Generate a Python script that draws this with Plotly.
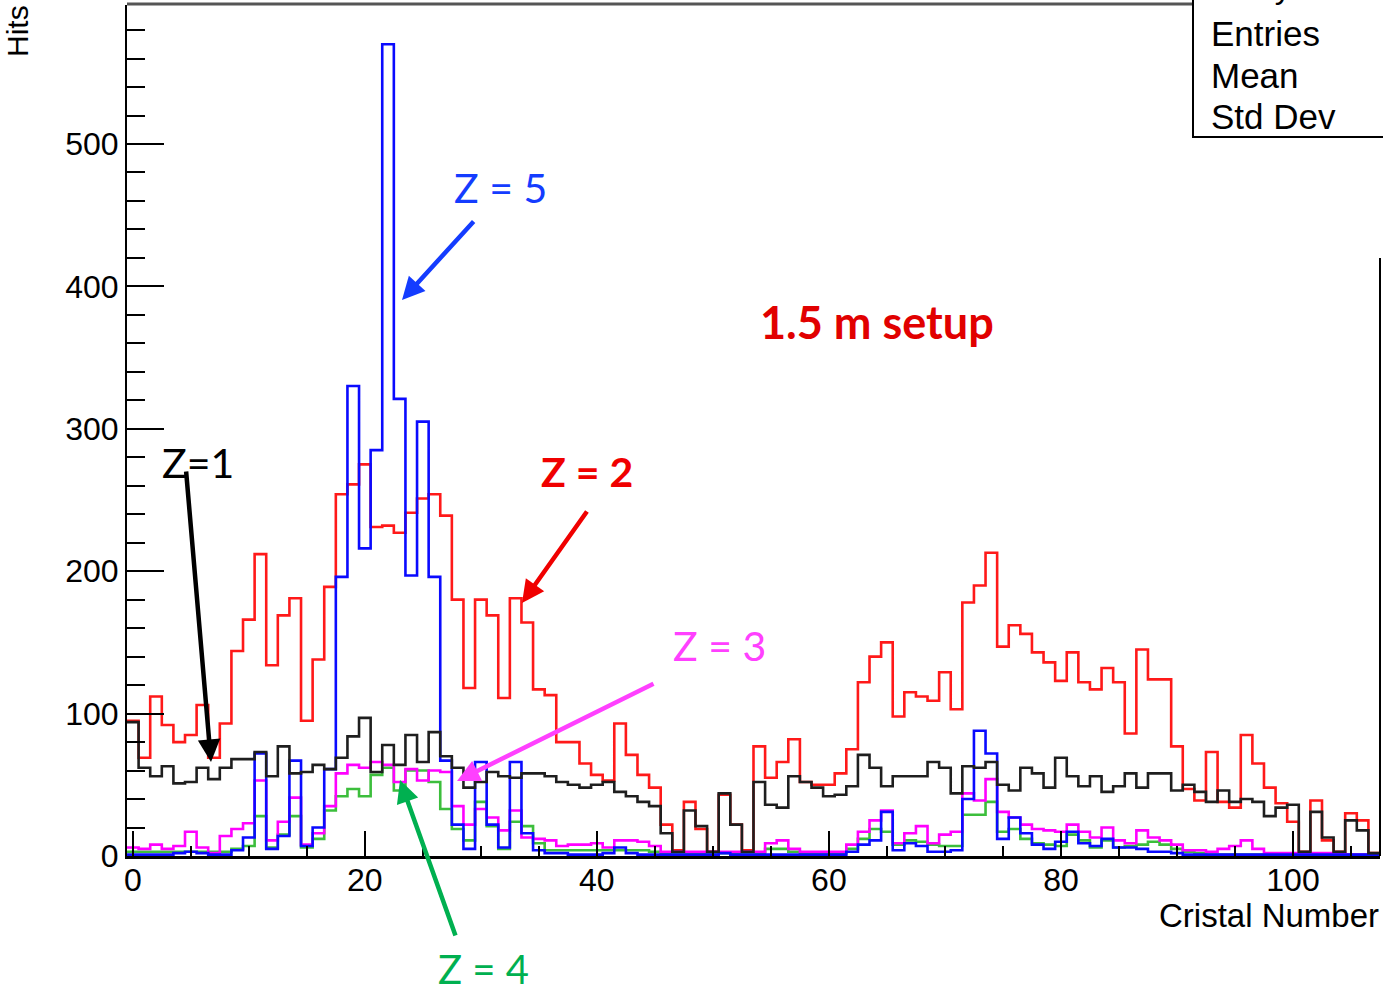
import plotly.graph_objects as go

# ---------------- data (bin contents, crystal 0..107) ----------------
crystal = list(range(108))

z2_red = [95, 69, 112, 92, 80, 85, 106, 69, 93, 144,
          166, 212, 134, 169, 181, 95, 138, 189, 254, 261,
          275, 231, 232, 227, 241, 251, 254, 239, 180, 118,
          180, 169, 111, 181, 164, 117, 113, 80, 80, 65,
          57, 53, 93, 71, 57, 48, 22, 4, 38, 19,
          3, 43, 22, 4, 77, 55, 66, 82, 52, 50,
          50, 58, 75, 122, 140, 150, 98, 115, 112, 109,
          129, 103, 178, 190, 213, 147, 162, 156, 143, 136,
          123, 143, 122, 117, 132, 122, 86, 145, 124, 124,
          77, 47, 39, 73, 38, 34, 85, 65, 48, 37,
          24, 3, 39, 11, 3, 30, 25, 2]

z1_black = [94, 62, 56, 63, 51, 52, 62, 54, 62, 68,
            68, 73, 56, 77, 58, 59, 64, 61, 69, 84,
            97, 59, 78, 64, 85, 66, 87, 70, 62, 48,
            52, 59, 56, 55, 58, 58, 56, 52, 50, 48,
            50, 52, 45, 42, 38, 35, 16, 3, 32, 21,
            3, 44, 22, 3, 52, 36, 34, 56, 52, 48,
            42, 43, 49, 71, 62, 49, 56, 56, 56, 66,
            62, 44, 63, 62, 66, 50, 46, 62, 58, 48,
            69, 56, 49, 56, 45, 49, 58, 48, 58, 58,
            46, 50, 45, 38, 46, 38, 40, 38, 28, 34,
            36, 3, 31, 13, 3, 25, 18, 2]

z3_magenta = [6, 5, 8, 5, 7, 17, 6, 2, 14, 19,
              23, 53, 11, 24, 41, 8, 16, 35, 58, 64,
              62, 66, 64, 52, 61, 53, 60, 59, 35, 22,
              33, 27, 18, 32, 13, 12, 11, 7, 8, 8,
              9, 6, 11, 11, 10, 7, 3, 3, 3, 3,
              3, 3, 3, 3, 3, 9, 11, 5, 3, 3,
              3, 3, 8, 17, 25, 32, 9, 16, 21, 9,
              15, 17, 44, 39, 54, 31, 27, 22, 19, 18,
              17, 22, 17, 13, 20, 11, 9, 18, 13, 11,
              8, 4, 4, 3, 5, 7, 11, 5, 2, 2,
              2, 2, 2, 2, 2, 1, 1, 1]

z5_blue = [1, 1, 1, 1, 2, 3, 2, 1, 1, 4,
           13, 72, 5, 14, 67, 7, 20, 61, 196, 330,
           216, 285, 570, 321, 197, 305, 196, 67, 22, 5,
           66, 22, 6, 66, 16, 4, 2, 2, 1, 1,
           1, 2, 6, 2, 1, 1, 1, 1, 1, 1,
           1, 2, 1, 1, 1, 1, 1, 1, 1, 1,
           1, 1, 3, 8, 11, 31, 4, 9, 7, 3,
           3, 4, 40, 88, 72, 12, 27, 16, 8, 5,
           10, 17, 9, 7, 12, 6, 6, 5, 3, 3,
           2, 1, 1, 1, 1, 1, 1, 1, 1, 1,
           1, 1, 1, 1, 1, 1, 1, 1]

z4_green = [3, 3, 3, 3, 3, 3, 3, 3, 3, 5,
            7, 28, 6, 15, 28, 6, 12, 32, 42, 47,
            42, 57, 62, 46, 60, 60, 52, 33, 19, 11,
            38, 21, 5, 24, 21, 9, 4, 4, 4, 4,
            4, 4, 4, 4, 4, 3, 2, 2, 2, 2,
            2, 2, 2, 2, 2, 5, 5, 3, 2, 2,
            2, 2, 5, 12, 19, 17, 8, 11, 10, 8,
            7, 7, 29, 29, 38, 17, 19, 12, 9, 8,
            7, 15, 11, 6, 11, 6, 7, 8, 10, 8,
            5, 3, 2, 1, 1, 1, 1, 1, 1, 1,
            1, 1, 1, 1, 1, 1, 1, 1]

x_ticks = [0, 20, 40, 60, 80, 100]
y_ticks = [0, 100, 200, 300, 400, 500]

# ---------------- figure ----------------
W, H = 1383, 995
L, R, T, B = 127, 3, 5, 139
PW, PH = W - L - R, H - T - B


def px(x):
    return (x - L) / PW


def py(y):
    return (H - B - y) / PH


def steps(vals):
    xs = [c - 0.5 for c in crystal] + [crystal[-1] + 0.5]
    ys = list(vals) + [vals[-1]]
    return xs, ys


fig = go.Figure()
series = [
    (z2_red, "rgb(255,25,25)"),
    (z4_green, "rgb(60,190,60)"),
    (z3_magenta, "rgb(255,0,255)"),
    (z5_blue, "rgb(10,10,255)"),
    (z1_black, "rgb(30,30,30)"),
]
for vals, col in series:
    xs, ys = steps(vals)
    fig.add_trace(go.Scatter(x=xs, y=ys, mode="lines",
                             line=dict(color=col, width=2.6, shape="hv"),
                             showlegend=False, hoverinfo="skip"))

axfont = dict(family="Liberation Sans, Arial, sans-serif", size=32, color="black")
fig.update_layout(
    width=W, height=H,
    margin=dict(l=L, r=R, t=T, b=B, pad=0),
    paper_bgcolor="white", plot_bgcolor="white",
    xaxis=dict(range=[-0.5, 107.5], tickvals=x_ticks, ticks="inside", ticklen=25,
               tickwidth=2, tickcolor="black", showgrid=False, zeroline=False,
               showline=True, linecolor="black", linewidth=3, tickfont=axfont,
               ticklabelstandoff=-6,
               minor=dict(dtick=5, tick0=0, ticks="inside", ticklen=10,
                          tickwidth=2, tickcolor="black", showgrid=False)),
    yaxis=dict(range=[0, 597.6], tickvals=y_ticks, ticks="inside", ticklen=37,
               tickwidth=2, tickcolor="black", showgrid=False, zeroline=False,
               showline=True, linecolor="black", linewidth=2, tickfont=axfont,
               minor=dict(dtick=20, tick0=0, ticks="inside", ticklen=18,
                          tickwidth=2, tickcolor="black", showgrid=False)),
)

shapes = [
    dict(type="line", xref="paper", yref="paper", x0=px(127), x1=px(1383),
         y0=py(4), y1=py(4), line=dict(color="#555", width=3)),
    dict(type="line", xref="paper", yref="paper", x0=px(1380), x1=px(1380),
         y0=py(258), y1=py(856), line=dict(color="black", width=2)),
    dict(type="rect", xref="paper", yref="paper", x0=px(1193), x1=px(1400),
         y0=py(137), y1=py(-10), fillcolor="white", line=dict(color="black", width=2),
         layer="above"),
]
fig.update_layout(shapes=shapes)

ann = []
# axis titles
ann.append(dict(text="Hits", xref="paper", yref="paper", x=px(17), y=py(31),
                showarrow=False, textangle=-90, xanchor="center", yanchor="middle",
                font=dict(family="Liberation Sans, Arial", size=30, color="black")))
ann.append(dict(text="Cristal Number", xref="paper", yref="paper", x=px(1381), y=py(916),
                showarrow=False, xanchor="right", yanchor="middle",
                font=dict(family="Liberation Sans, Arial", size=33, color="black")))
# stats box texts
for txt, yy in [("Entries", 33), ("Mean", 75), ("Std Dev", 117)]:
    ann.append(dict(text=txt, xref="paper", yref="paper", x=px(1209), y=py(yy),
                    showarrow=False, xanchor="left", yanchor="middle",
                    font=dict(family="Liberation Sans, Arial", size=35, color="black")))
ann.append(dict(text="CrystalNum", xref="paper", yref="paper", x=px(1238), y=py(-14),
                showarrow=False, xanchor="left", yanchor="middle",
                font=dict(family="Liberation Sans, Arial", size=33, color="black")))

lab = "Lato, Open Sans, sans-serif"
texts = [
    ("Z = 5", 500, 188, "rgb(20,60,255)", False, 41),
    ("Z = 2", 587, 471, "rgb(240,0,0)", True, 41),
    ("1.5 m setup", 877, 322, "rgb(225,0,0)", True, 45),
    ("Z=1", 198, 462, "black", False, 41),
    ("Z = 3", 719, 645, "rgb(255,64,255)", False, 41),
    ("Z = 4", 484, 969, "rgb(0,176,80)", False, 40),
]
for t, x, y, c, bold, sz in texts:
    ann.append(dict(text=("<b>%s</b>" % t) if bold else t, xref="paper", yref="paper",
                    x=px(x), y=py(y), showarrow=False, xanchor="center", yanchor="middle",
                    font=dict(family=lab, size=sz, color=c)))

arrows = [
    ((475, 220), (402, 300), "rgb(20,60,255)"),
    ((588, 510), (522, 603), "rgb(240,0,0)"),
    ((186, 470), (211, 762), "black"),
    ((655, 683), (457, 781), "rgb(255,64,255)"),
    ((456, 937), (400, 780), "rgb(0,176,80)"),
]
for (tx, ty), (hx, hy), c in arrows:
    ann.append(dict(text="", xref="paper", yref="paper", x=px(hx), y=py(hy),
                    ax=tx - hx, ay=ty - hy, axref="pixel", ayref="pixel",
                    showarrow=True, arrowhead=2, arrowsize=1.0, arrowwidth=4.5,
                    arrowcolor=c, standoff=0, startstandoff=0))
fig.update_layout(annotations=ann)

fig.write_html("out.html")
